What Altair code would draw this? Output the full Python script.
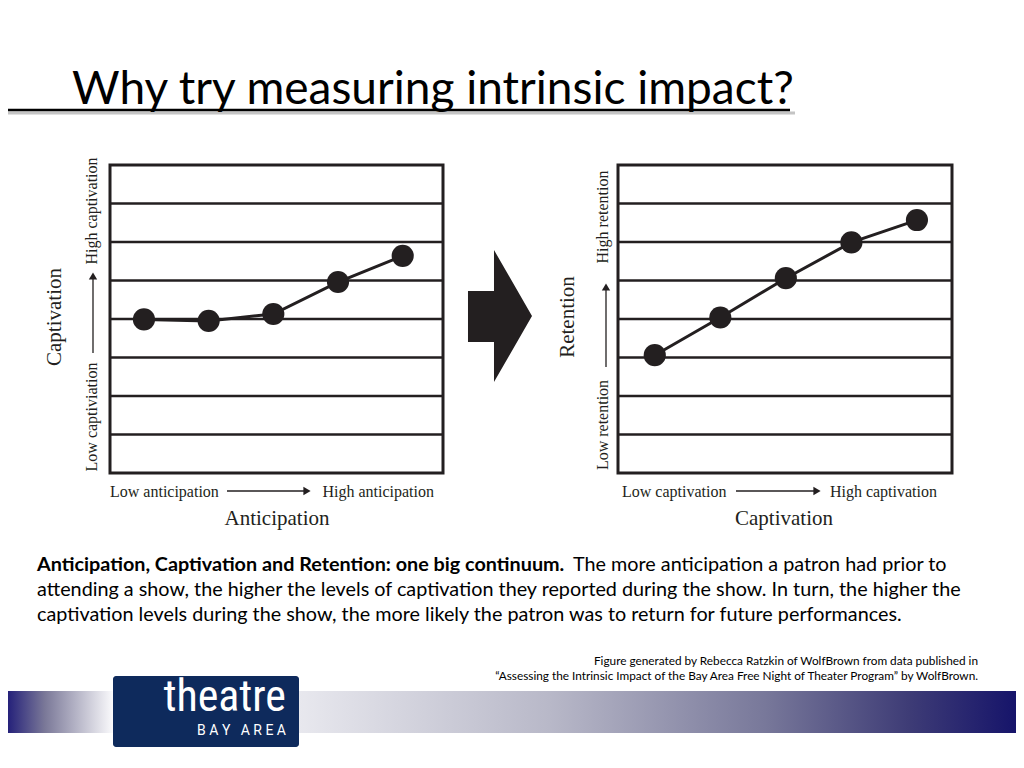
import altair as alt
import pandas as pd

# ---------------- data ----------------
steps = [1, 2, 3, 4, 5]
captivation_by_anticipation = [3.99, 3.95, 4.13, 4.96, 5.64]
retention_by_captivation = [3.06, 4.04, 5.06, 5.99, 6.57]
band_levels = [1, 2, 3, 4, 5, 6, 7]
level_domain = [0, 8]

title_text = "Why try measuring intrinsic impact?"
lead_bold = "Anticipation, Captivation and Retention: one big continuum."
lead_rest = "The more anticipation a patron had prior to"
body_lines = [
    "attending a show, the higher the levels of captivation they reported during the show. In turn, the higher the",
    "captivation levels during the show, the more likely the patron was to return for future performances.",
]
foot_lines = [
    "Figure generated by Rebecca Ratzkin of WolfBrown from data published in",
    "\u201cAssessing the Intrinsic Impact of the Bay Area Free Night of Theater Program\u201d by WolfBrown.",
]
left_labels = ["Captivation", "Low captiviation", "High captivation",
               "Low anticipation", "High anticipation", "Anticipation"]
right_labels = ["Retention", "Low retention", "High retention",
                "Low captivation", "High captivation", "Captivation"]
logo_words = ["theatre", "B A Y \u00a0 A R E A"]

# ---------------- styling ----------------
INK = "#231f20"
SERIF = "Liberation Serif"
SANS = "Lato"
LOGO_FONT = "Liberation Sans Narrow, Roboto Condensed, Roboto"
NAVY = "#0e2a5c"


def P(v):
    """slide pixel -> canvas pixel (page margin is 8px)"""
    return v - 8


one = pd.DataFrame({"k": [0]})


def txt(text, x, y, size, font=SANS, **kw):
    return alt.Chart(one).mark_text(text=text, fontSize=size, font=font, **kw).encode(
        x=alt.value(P(x)), y=alt.value(P(y)))


def panel(values, xdom, x_left, x_right):
    xs = alt.Scale(domain=xdom, range=[P(x_left), P(x_right)])
    ys = alt.Scale(domain=level_domain, range=[P(473), P(165)])
    df = pd.DataFrame({"step": steps, "value": values})
    grid = pd.DataFrame({"level": band_levels, "x0": xdom[0], "x1": xdom[1]})
    box = pd.DataFrame({"x0": [xdom[0]], "x1": [xdom[1]],
                        "y0": [level_domain[0]], "y1": [level_domain[1]]})
    box_l = alt.Chart(box).mark_rect(fillOpacity=0, stroke=INK, strokeWidth=3).encode(
        x=alt.X("x0:Q", scale=xs, axis=None), x2="x1",
        y=alt.Y("y0:Q", scale=ys, axis=None), y2="y1")
    grid_l = alt.Chart(grid).mark_rule(color=INK, strokeWidth=2.4).encode(
        x=alt.X("x0:Q", scale=xs, axis=None), x2="x1",
        y=alt.Y("level:Q", scale=ys, axis=None))
    line = alt.Chart(df).mark_line(color=INK, strokeWidth=3).encode(
        x=alt.X("step:Q", scale=xs, axis=None),
        y=alt.Y("value:Q", scale=ys, axis=None))
    pts = alt.Chart(df).mark_circle(size=490, color=INK, opacity=1).encode(
        x=alt.X("step:Q", scale=xs, axis=None),
        y=alt.Y("value:Q", scale=ys, axis=None))
    return alt.layer(box_l, grid_l, line, pts)


def h_arrow(x0, x1, y):
    r = alt.Chart(one).mark_rule(color=INK, strokeWidth=1.3).encode(
        x=alt.value(P(x0)), x2=alt.value(P(x1 - 6)), y=alt.value(P(y)))
    h = alt.Chart(one).mark_point(shape="triangle-right", filled=True, size=70,
                                  color=INK, opacity=1).encode(
        x=alt.value(P(x1 - 4)), y=alt.value(P(y)))
    return [r, h]


def v_arrow(x, y_bottom, y_top):
    r = alt.Chart(one).mark_rule(color=INK, strokeWidth=1.3).encode(
        x=alt.value(P(x)), y=alt.value(P(y_bottom)), y2=alt.value(P(y_top + 6)))
    h = alt.Chart(one).mark_point(shape="triangle-up", filled=True, size=70,
                                  color=INK, opacity=1).encode(
        x=alt.value(P(x)), y=alt.value(P(y_top + 4)))
    return [r, h]


def panel_labels(labels, cx, x_ytitle, x_ysub, x_left_text, x_right_text,
                 low_cy, high_cy, ytitle_cy):
    out = [
        txt(labels[0], x_ytitle, ytitle_cy, 21, SERIF, angle=270, align="center",
            baseline="middle", color=INK),
        txt(labels[1], x_ysub, low_cy, 16, SERIF, angle=270, align="center",
            baseline="middle", color=INK),
        txt(labels[2], x_ysub, high_cy, 16, SERIF, angle=270, align="center",
            baseline="middle", color=INK),
        txt(labels[3], x_left_text, 492, 16, SERIF, align="left", baseline="middle", color=INK),
        txt(labels[4], x_right_text, 492, 16, SERIF, align="right", baseline="middle", color=INK),
        txt(labels[5], cx, 519, 21, SERIF, align="center", baseline="middle", color=INK),
    ]
    return out


# ---------------- bottom band & logo ----------------
band_left = alt.Chart(one).mark_rect(
    fill=alt.LinearGradient(gradient="linear", x1=0, x2=1, y1=0, y2=0,
                            stops=[alt.GradientStop(offset=0, color="#25217a"),
                                   alt.GradientStop(offset=0.35, color="#7a7898"),
                                   alt.GradientStop(offset=1, color="#fafafc")])).encode(
    x=alt.value(P(8)), x2=alt.value(P(113)), y=alt.value(P(691)), y2=alt.value(P(733)))
band_right = alt.Chart(one).mark_rect(
    fill=alt.LinearGradient(gradient="linear", x1=0, x2=1, y1=0, y2=0,
                            stops=[alt.GradientStop(offset=0, color="#e8e8ee"),
                                   alt.GradientStop(offset=0.35, color="#b8b8c8"),
                                   alt.GradientStop(offset=0.65, color="#78789a"),
                                   alt.GradientStop(offset=0.85, color="#3e3c76"),
                                   alt.GradientStop(offset=1, color="#16146a")])).encode(
    x=alt.value(P(299)), x2=alt.value(P(1016)), y=alt.value(P(691)), y2=alt.value(P(733)))
logo_box = alt.Chart(one).mark_rect(fill=NAVY, cornerRadius=3).encode(
    x=alt.value(P(113)), x2=alt.value(P(299)), y=alt.value(P(676)), y2=alt.value(P(747)))
logo_t1 = txt(logo_words[0], 286, 711, 44, LOGO_FONT, align="right",
              baseline="alphabetic", color="white")
logo_t2 = txt(logo_words[1], 286, 735, 14, "Roboto", align="right",
              baseline="alphabetic", color="white")

# ---------------- title ----------------
title_shadow = alt.Chart(one).mark_rule(color="#c4c4c4", strokeWidth=3).encode(
    x=alt.value(P(8)), x2=alt.value(P(795)), y=alt.value(P(113)))
title_rule = alt.Chart(one).mark_rule(color="black", strokeWidth=2.5).encode(
    x=alt.value(P(8)), x2=alt.value(P(790)), y=alt.value(P(110)))
title = txt(title_text, 72, 104, 46, SANS, align="left", baseline="alphabetic", color="black")

# ---------------- paragraph & footnote ----------------
PS = 19.8
para = [
    txt(lead_bold, 37, 571, PS, SANS, align="left", baseline="alphabetic",
        fontWeight="bold", color="black"),
    txt(lead_rest, 573, 571, PS, SANS, align="left", baseline="alphabetic", color="black"),
    txt(body_lines[0], 37, 596, PS, SANS, align="left", baseline="alphabetic", color="black"),
    txt(body_lines[1], 37, 621, PS, SANS, align="left", baseline="alphabetic", color="black"),
]
foot = [
    txt(foot_lines[0], 978, 665, 11.8, SANS, align="right", baseline="alphabetic", color="black"),
    txt(foot_lines[1], 978, 680, 11.8, SANS, align="right", baseline="alphabetic", color="black"),
]

# ---------------- big block arrow ----------------
arrow_path = ("M -0.485 -0.379 L -0.091 -0.379 L -0.091 -1 L 0.485 0 "
              "L -0.091 1 L -0.091 0.394 L -0.485 0.394 Z")
big_arrow = alt.Chart(one).mark_point(shape=arrow_path, filled=True, size=17424,
                                      color=INK, opacity=1, strokeWidth=0).encode(
    x=alt.value(P(500)), y=alt.value(P(316)))

# ---------------- panels ----------------
left_panel = panel(captivation_by_anticipation, [0.475, 5.623], 110, 443)
right_panel = panel(retention_by_captivation, [0.439, 5.535], 618, 952)

decor = [band_left, band_right, logo_box, logo_t1, logo_t2,
         title_shadow, title_rule, title, big_arrow]
decor += para + foot
decor += h_arrow(227, 311, 491) + h_arrow(736, 821, 491)
decor += v_arrow(93, 353, 272) + v_arrow(606, 367, 283)
decor += panel_labels(left_labels, 277, 55, 92, 110, 434, 417, 211, 317)
decor += panel_labels(right_labels, 784, 568, 603, 622, 937, 425, 217, 317)

chart = alt.layer(*decor, left_panel, right_panel).resolve_scale(
    x="independent", y="independent"
).properties(
    width=1008, height=744, padding=0,
    autosize=alt.AutoSizeParams(type="none"),
    background="white",
).configure_view(stroke=None)

chart.save("out.html", embed_options={"renderer": "svg", "actions": False})
